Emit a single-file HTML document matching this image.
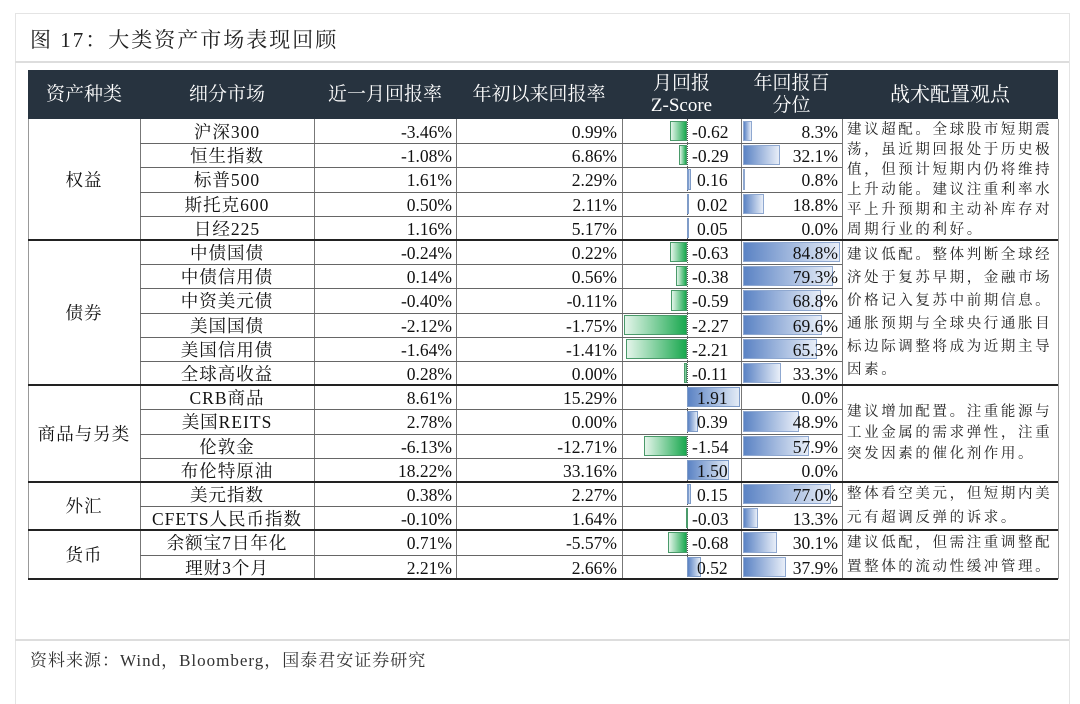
<!DOCTYPE html>
<html><head><meta charset="utf-8">
<style>
body{margin:0;background:#fff;width:1080px;height:691px;overflow:hidden;position:relative;font-family:"Liberation Serif","Noto Serif CJK SC",serif;color:#111}
.abs{position:absolute}
#card{left:15px;top:13px;width:1053px;height:690px;border:1px solid #e4e4e4;border-bottom:none}
#title{left:30px;top:24px;font-size:21px;letter-spacing:2px;color:#222;font-family:"Liberation Serif","Noto Serif CJK SC",serif}
.sep{left:15px;width:1054px;height:2px;background:#ddd}
#hdr{left:28px;top:70px;width:1030px;height:49px;background:#27333f}
.h{position:absolute;color:#fff;font-size:19px;text-align:center;line-height:22px;display:flex;align-items:center;justify-content:center;top:70px;height:49px}
.vl{position:absolute;width:1px;background:#777}
.hl{position:absolute;height:1px;background:#666}
.t{position:absolute;font-size:17.5px;line-height:26px;white-space:nowrap}
.c{position:absolute;font-size:14.5px;letter-spacing:2.6px;color:#222}
#foot{left:30px;top:646px;font-size:17px;color:#333;letter-spacing:1px}
</style></head><body>
<div id="card" class="abs"></div>
<div id="title" class="abs">图 17：大类资产市场表现回顾</div>
<div class="abs sep" style="top:61px"></div>
<div class="abs sep" style="top:639px"></div>
<div id="hdr" class="abs"></div>
<div class="h" style="left:28px;width:112px">资产种类</div>
<div class="h" style="left:140px;width:174px">细分市场</div>
<div class="h" style="left:314px;width:142px">近一月回报率</div>
<div class="h" style="left:456px;width:166px">年初以来回报率</div>
<div class="h" style="left:622px;width:119px">月回报<br>Z-Score</div>
<div class="h" style="left:741px;width:101px">年回报百<br>分位</div>
<div class="h" style="left:842px;width:216px;font-size:20px">战术配置观点</div>
<div id="tbl"></div>
<div id="foot" class="abs">资料来源：Wind，Bloomberg，国泰君安证券研究</div>
<script>
const markets=["沪深300","恒生指数","标普500","斯托克600","日经225","中债国债","中债信用债","中资美元债","美国国债","美国信用债","全球高收益","CRB商品","美国REITS","伦敦金","布伦特原油","美元指数","CFETS人民币指数","余额宝7日年化","理财3个月"];
const monthRet=["-3.46%","-1.08%","1.61%","0.50%","1.16%","-0.24%","0.14%","-0.40%","-2.12%","-1.64%","0.28%","8.61%","2.78%","-6.13%","18.22%","0.38%","-0.10%","0.71%","2.21%"];
const ytdRet=["0.99%","6.86%","2.29%","2.11%","5.17%","0.22%","0.56%","-0.11%","-1.75%","-1.41%","0.00%","15.29%","0.00%","-12.71%","33.16%","2.27%","1.64%","-5.57%","2.66%"];
const zscores=[-0.62,-0.29,0.16,0.02,0.05,-0.63,-0.38,-0.59,-2.27,-2.21,-0.11,1.91,0.39,-1.54,1.50,0.15,-0.03,-0.68,0.52];
const pctiles=[8.3,32.1,0.8,18.8,0.0,84.8,79.3,68.8,69.6,65.3,33.3,0.0,48.9,57.9,0.0,77.0,13.3,30.1,37.9];
const groups=["权益","债券","商品与另类","外汇","货币"];
const groupSizes=[5,6,4,2,2];
const views=["建议超配。全球股市短期震荡，虽近期回报处于历史极值，但预计短期内仍将维持上升动能。建议注重利率水平上升预期和主动补库存对周期行业的利好。","建议低配。整体判断全球经济处于复苏早期，金融市场价格记入复苏中前期信息。通胀预期与全球央行通胀目标边际调整将成为近期主导因素。","建议增加配置。注重能源与工业金属的需求弹性，注重突发因素的催化剂作用。","整体看空美元，但短期内美元有超调反弹的诉求。","建议低配，但需注重调整配置整体的流动性缓冲管理。"];
const viewLH=[20,23,21,24,24];
const T=document.getElementById('tbl');
const top0=119, rh=24.2, zx=687, zs=27.7, px0=743, ps=1.14;
function mk(cls,css,txt){const e=document.createElement('div');e.className=cls;e.style.cssText=css;if(txt!==undefined)e.textContent=txt;T.appendChild(e);return e;}
const bottom=top0+rh*markets.length;
[28,140,314,456,622,741,842,1058].forEach(x=>{const e=mk('vl',`left:${x}px;top:${top0}px;height:${bottom-top0}px;`+(x==28||x==1058?'background:#999':''));

});
const za=mk('vl',`left:${zx}px;top:${top0}px;height:${bottom-top0}px;border-left:1px dotted #555;background:none;width:0`);


markets.forEach((m,i)=>{
  const y=top0+rh*i;
  const hl=mk('hl',`left:140px;width:702px;top:${(y+rh).toFixed(1)}px;`);
  
  
  const z=zscores[i];const w=Math.abs(z)*zs;
  const zb=mk('abs',`left:${z<0?zx-w:zx}px;top:${y+2}px;width:${w}px;height:${rh-4}px;box-sizing:border-box;border:1px solid ${z<0?'#4a9a6a':'#7f9cc8'};background:linear-gradient(to ${z<0?'left':'right'},${z<0?'#1aa84f,#e4f5ea':'#5b83c4,#e3ebf6'})`);
  
  
  const p=pctiles[i];const pw=p*ps;
  if(pw>0){const pb=mk('abs',`left:${px0}px;top:${y+2}px;width:${pw}px;height:${rh-4}px;box-sizing:border-box;border:1px solid #8fa8d0;background:linear-gradient(to right,#5b83c4,#e8eef8)`);
  
  }
  const a=mk('t',`left:140px;width:174px;top:${y}px;text-align:center;letter-spacing:1px`,m);
  
  
  const b=mk('t',`left:314px;width:138px;top:${y}px;text-align:right`,monthRet[i]);
  
  
  const c=mk('t',`left:456px;width:161px;top:${y}px;text-align:right`,ytdRet[i]);
  
  
  const d=mk('t',`left:${z<0?692:697}px;top:${y}px`,z.toFixed(2));
  
  
  const f=mk('t',`left:741px;width:97px;top:${y}px;text-align:right`,p.toFixed(1)+'%');
  
  
});
let start=0;
groups.forEach((g,k)=>{
  const y1=top0+rh*start, h=rh*groupSizes[k];
  const gl=mk('hl',`left:28px;width:1030px;top:${(y1+h-1).toFixed(1)}px;height:2px;background:#222`);
  
  
  const gt=mk('t',`left:28px;width:112px;top:${y1+h/2-13}px;text-align:center;letter-spacing:1px`,g);
  
  
  const lines=Math.ceil(views[k].length/12);
  const lh=viewLH[k];
  const vt=mk('c',`left:847px;width:210px;line-height:${lh}px;top:${y1+h/2-lines*lh/2}px;white-space:normal;word-break:break-all`,views[k]);
  
  
  start+=groupSizes[k];
});
</script>
</body></html>
